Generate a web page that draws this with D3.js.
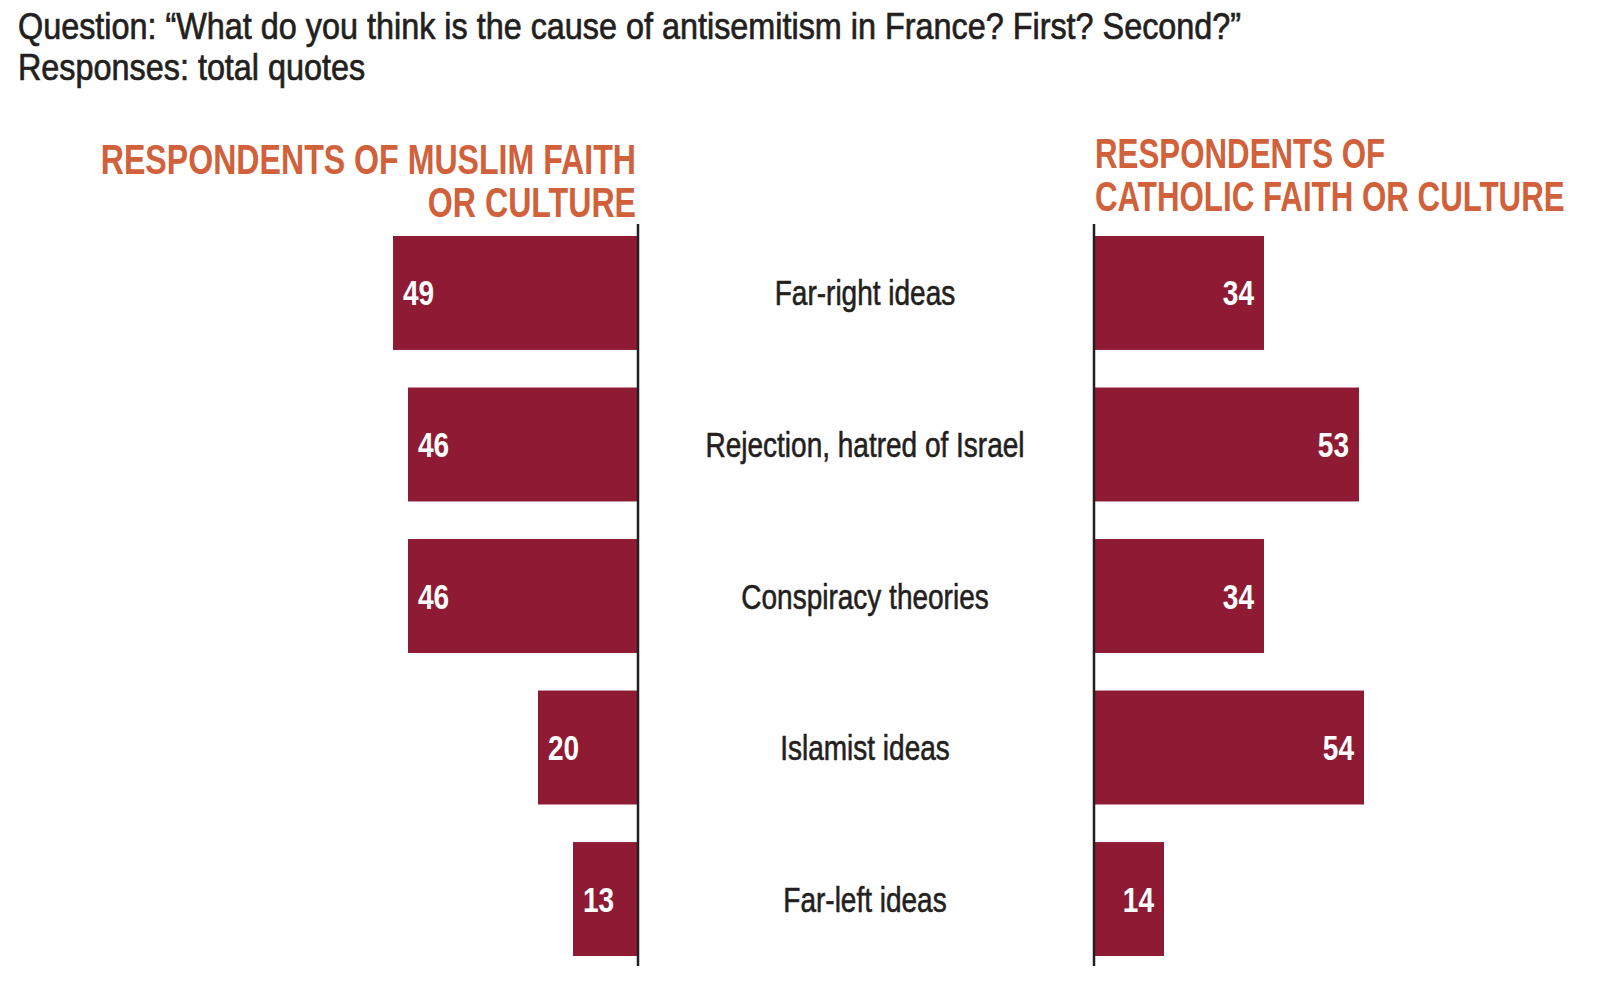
<!DOCTYPE html>
<html><head><meta charset="utf-8">
<script src="https://cdn.jsdelivr.net/npm/d3@7/dist/d3.min.js"></script>
<style>body{margin:0;background:#fff}svg{display:block}</style>
</head><body><svg id="c" width="1600" height="996"></svg>
<script>
const categories = ["Far-right ideas", "Rejection, hatred of Israel", "Conspiracy theories", "Islamist ideas", "Far-left ideas"];
const muslimValues = [49, 46, 46, 20, 13];
const catholicValues = [34, 53, 34, 54, 14];
const titleLines = ["Question: \u201cWhat do you think is the cause of antisemitism in France? First? Second?\u201d", "Responses: total quotes"];
const leftHeader = ["RESPONDENTS OF MUSLIM FAITH", "OR CULTURE"];
const rightHeader = ["RESPONDENTS OF", "CATHOLIC FAITH OR CULTURE"];

const svg = d3.select("#c");
const FONT = "'Liberation Sans', Arial, sans-serif";
const SX = 0.8;
const barColor = "#8E1A33", headColor = "#D0613A", textColor = "#231F20";
const leftAxisX = 638, rightAxisX = 1094;

const y = d3.scaleBand().domain(categories).range([236, 956]).paddingInner(0.248).paddingOuter(0);
const xL = d3.scaleLinear().domain([0, 100]).range([leftAxisX, leftAxisX - 500]);
const xR = d3.scaleLinear().domain([0, 100]).range([rightAxisX, rightAxisX + 500]);

function label(sel, x, yy, s, o) {
  const lines = Array.isArray(s) ? s : [s];
  const t = sel.append("text")
    .attr("transform", `translate(${x},${yy}) scale(${o.sx || SX},1)`)
    .attr("text-anchor", o.anchor || "start")
    .attr("font-family", FONT)
    .attr("font-size", o.size)
    .attr("font-weight", o.weight || "normal")
    .attr("fill", o.fill || textColor);
  lines.forEach((l, i) => t.append("tspan").attr("x", 0).attr("dy", i === 0 ? 0 : (o.lh || 0)).text(l));
  if (o.stroke) t.attr("stroke", o.fill || textColor).attr("stroke-width", o.stroke).attr("paint-order", "stroke");
  return t;
}

// Title
label(svg, 18, 39, titleLines, {size: 37, sx: 0.875, stroke: 0.7, lh: 41});

// Headers
label(svg, 636, 174, leftHeader, {size: 42, weight: "bold", anchor: "end", fill: headColor, sx: 0.765, lh: 43});
label(svg, 1095, 168, rightHeader, {size: 42, weight: "bold", fill: headColor, sx: 0.745, lh: 43});

const data = categories.map((c, i) => ({c, m: muslimValues[i], k: catholicValues[i]}));

// Left bars
const gl = svg.append("g");
gl.selectAll("rect").data(data).join("rect")
  .attr("x", d => xL(d.m)).attr("y", d => y(d.c))
  .attr("width", d => xL(0) - xL(d.m)).attr("height", y.bandwidth())
  .attr("fill", barColor);
data.forEach(d => label(gl, xL(d.m) + 10, y(d.c) + y.bandwidth() / 2 + 12.5, String(d.m), {size: 35, weight: "bold", fill: "#fff"}));

// Right bars
const gr = svg.append("g");
gr.selectAll("rect").data(data).join("rect")
  .attr("x", xR(0)).attr("y", d => y(d.c))
  .attr("width", d => xR(d.k) - xR(0)).attr("height", y.bandwidth())
  .attr("fill", barColor);
data.forEach(d => label(gr, xR(d.k) - 10, y(d.c) + y.bandwidth() / 2 + 12.5, String(d.k), {size: 35, weight: "bold", fill: "#fff", anchor: "end"}));

// Category labels
data.forEach(d => label(svg, 865, y(d.c) + y.bandwidth() / 2 + 12.5, d.c, {size: 35, anchor: "middle", stroke: 0.6}));

// Axis lines
svg.append("line").attr("x1", leftAxisX).attr("x2", leftAxisX).attr("y1", 224).attr("y2", 966)
  .attr("stroke", textColor).attr("stroke-width", 2.5);
svg.append("line").attr("x1", rightAxisX).attr("x2", rightAxisX).attr("y1", 224).attr("y2", 966)
  .attr("stroke", textColor).attr("stroke-width", 2.5);
</script></body></html>
